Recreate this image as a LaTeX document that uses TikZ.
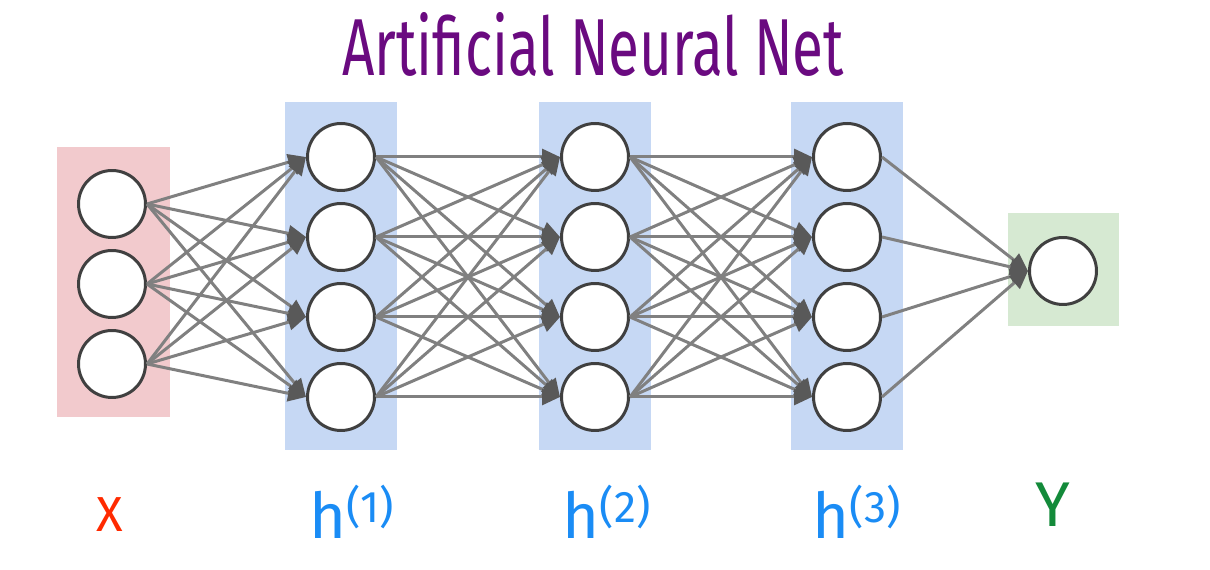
\documentclass[tikz,border=0pt]{standalone}
\usepackage{fontspec}
\setsansfont{Fira Sans}
\usepackage{xcolor}
\usepackage{tikz}
\usetikzlibrary{arrows.meta,positioning}

\definecolor{inbg}{HTML}{F2CACD}
\definecolor{hidbg}{HTML}{C6D8F4}
\definecolor{outbg}{HTML}{D6E9D2}
\definecolor{titlepurple}{HTML}{6A0A80}
\definecolor{xred}{HTML}{FF2A00}
\definecolor{hblue}{HTML}{1A8CF5}
\definecolor{ygreen}{HTML}{138A3A}

\begin{document}
\begin{tikzpicture}[
  x=0.02cm, y=-0.02cm,
  neuron/.style={circle, draw=black!75, line width=0.06cm, fill=white,
                 minimum size=1.34cm, inner sep=0pt},
  arr/.style={-{Triangle[length=3.6mm, width=3.2mm, color=black!65]},
              draw=black!50, line width=0.06cm},
  lbl/.style={font=\sffamily\fontsize{36}{40}\selectfont, inner sep=0pt},
  title/.style={font=\sffamily\fontsize{46}{50}\selectfont, text=titlepurple, inner sep=0pt},
]
\useasboundingbox (0,0) rectangle (1210,570);
% layer backgrounds
\fill[inbg] (57,147) rectangle (170,417);
\foreach \cx in {341,595,847}
  \fill[hidbg] (\cx-56,102) rectangle (\cx+56,450);
\fill[outbg] (1008,213) rectangle (1119,326);
% neurons
\foreach \i/\yy in {1/204,2/284,3/364}
  \node[neuron] (x\i) at (112,\yy) {};
\foreach \l/\cx in {a/341,b/595,c/847}
  \foreach \i in {1,...,4}
    \node[neuron] (h\l\i) at (\cx,{77+80*\i}) {};
\node[neuron] (y) at (1063,271) {};
% connections
\foreach \i in {1,2,3}
  \foreach \j in {1,...,4}
    \draw[arr] (x\i.east) -- (ha\j.west);
\foreach \i in {1,...,4}
  \foreach \j in {1,...,4} {
    \draw[arr] (ha\i.east) -- (hb\j.west);
    \draw[arr] (hb\i.east) -- (hc\j.west);
  }
\foreach \i in {1,...,4}
  \draw[arr] (hc\i.east) -- (y.west);
% labels
\node[title] (name) at (593,44) {\scalebox{0.7}[1]{Artificial Neural Net}};
\node[lbl, text=xred, font=\sffamily\fontsize{28}{32}\selectfont] (xlbl) at (110,515) {X};
\node[lbl, text=hblue] (h1lbl) at (352,512) {h\textsuperscript{(1)}};
\node[lbl, text=hblue] (h2lbl) at (607,512) {h\textsuperscript{(2)}};
\node[lbl, text=hblue] (h3lbl) at (857,512) {h\textsuperscript{(3)}};
\node[lbl, text=ygreen] (ylbl) at (1053,505) {Y};
\end{tikzpicture}
\end{document}
